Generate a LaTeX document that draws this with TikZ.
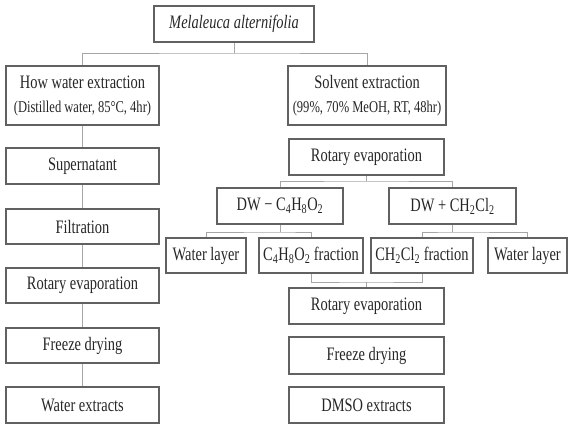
\documentclass[tikz,border=0pt]{standalone}
\usepackage{fontspec}
\setmainfont{Liberation Serif}[FakeStretch=0.76]
\begin{document}
\begin{tikzpicture}[x=1pt,y=-1pt,
  box/.style={draw=black!62,line width=1.4pt,rectangle,inner sep=0pt,align=center,
    text=black!85,font=\fontsize{19}{22}\selectfont},
  conn/.style={draw=black!35,line width=0.8pt}]
\useasboundingbox (0,0) rectangle (571,434);
% top
\node[box,minimum width=160pt,minimum height=36pt] (title) at (234,24) {\textit{Melaleuca alternifolia}};
\node[box,minimum width=153pt,minimum height=59pt] (hw) at (82.5,95.5)
  {How water extraction\\[2pt]{\fontsize{16.5}{18}\selectfont (Distilled water, 85°C, 4hr)}};
\node[box,minimum width=158pt,minimum height=59pt] (se) at (367,95.5)
  {Solvent extraction\\[2pt]{\fontsize{16.5}{18}\selectfont (99\%, 70\% MeOH, RT, 48hr)}};
% left column
\node[box,minimum width=153pt,minimum height=36pt] (sup) at (82.5,166) {Supernatant};
\node[box,minimum width=153pt,minimum height=35pt] (fil) at (82.5,226.5) {Filtration};
\node[box,minimum width=153pt,minimum height=35pt] (rel) at (82.5,285.5) {Rotary evaporation};
\node[box,minimum width=153pt,minimum height=35pt] (fdl) at (82.5,345.5) {Freeze drying};
\node[box,minimum width=153pt,minimum height=36pt] (wex) at (82.5,405) {Water extracts};
% right column
\node[box,minimum width=155pt,minimum height=36pt] (rer) at (366.5,157) {Rotary evaporation};
\node[box,minimum width=126pt,minimum height=36pt] (dwa) at (280,206) {DW − C\textsubscript{4}H\textsubscript{8}O\textsubscript{2}};
\node[box,minimum width=127pt,minimum height=36pt] (dwb) at (452.5,206) {DW + CH\textsubscript{2}Cl\textsubscript{2}};
\node[box,minimum width=80pt,minimum height=35pt] (wl1) at (206,255.5) {Water layer};
\node[box,minimum width=104pt,minimum height=35pt] (c4f) at (311,255.5) {C\textsubscript{4}H\textsubscript{8}O\textsubscript{2} fraction};
\node[box,minimum width=102pt,minimum height=35pt] (chf) at (422,255.5) {CH\textsubscript{2}Cl\textsubscript{2} fraction};
\node[box,minimum width=79pt,minimum height=35pt] (wl2) at (527.5,255.5) {Water layer};
\node[box,minimum width=155pt,minimum height=36pt] (rer2) at (366.5,306) {Rotary evaporation};
\node[box,minimum width=155pt,minimum height=37pt] (fdr) at (366.5,355.5) {Freeze drying};
\node[box,minimum width=155pt,minimum height=36pt] (dmso) at (366.5,405) {DMSO extracts};
% junctions
\coordinate (j1) at (234,53);
\coordinate (j2) at (366.5,181);
\coordinate (j3) at (280,232);
\coordinate (j5) at (452.5,232);
\coordinate (j4) at (366.5,282);
% connectors
\draw[conn] (title.south) -- (j1);
\draw[conn] (hw.north) |- (j1) -| (se.north);
\draw[conn] (hw.south) -- (sup.north);
\draw[conn] (sup.south) -- (fil.north);
\draw[conn] (fil.south) -- (rel.north);
\draw[conn] (rel.south) -- (fdl.north);
\draw[conn] (fdl.south) -- (wex.north);
\draw[conn] (rer.south) -- (j2);
\draw[conn] (dwa.north) |- (j2) -| (dwb.north);
\draw[conn] (dwa.south) -- (j3);
\draw[conn] (wl1.north) |- (j3) -| (c4f.north);
\draw[conn] (dwb.south) -- (j5);
\draw[conn] (chf.north) |- (j5) -| (wl2.north);
\draw[conn] (c4f.south) |- (j4) -| (chf.south);
\draw[conn] (j4) -- (rer2.north);
\end{tikzpicture}
\end{document}
